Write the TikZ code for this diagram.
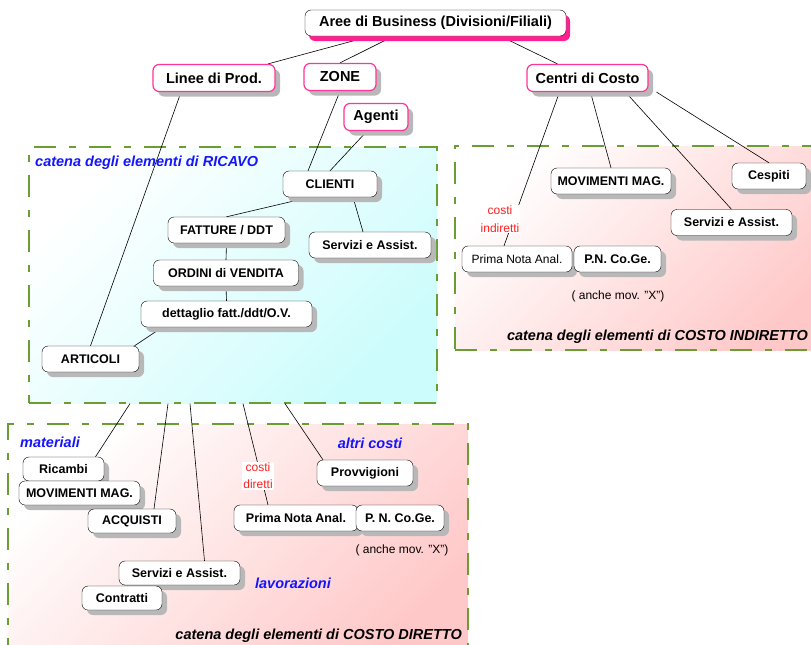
\documentclass[tikz,border=0pt]{standalone}
\usepackage{fontspec}
\setmainfont{Liberation Sans}
\usetikzlibrary{shadows}

\definecolor{rosa}{HTML}{FF3399}
\definecolor{rosaombra}{HTML}{FF2090}
\definecolor{verde}{HTML}{6A9E35}
\definecolor{blu}{HTML}{1414FF}
\definecolor{ciano}{HTML}{CCFCFC}
\definecolor{pesca}{HTML}{FFC8C8}
\definecolor{rosso}{HTML}{FF2020}

\pgfdeclarelayer{pannelli}
\pgfdeclarelayer{linee}
\pgfsetlayers{pannelli,linee,main}

\begin{document}
\begin{tikzpicture}[x=1pt, y=-1pt,
    base/.style={draw, rounded corners=6pt, fill=white, inner sep=1pt,
        minimum height=26pt, font=\fontsize{12.5}{14}\selectfont\bfseries},
    box/.style={base, drop shadow={shadow xshift=5pt, shadow yshift=-5pt,
        fill=black!28, opacity=1}},
    basso/.style={box, minimum height=24pt},
    top/.style={box, draw=rosa, line width=1.2pt, minimum height=27pt,
        font=\fontsize{14.5}{16}\selectfont\bfseries},
    radice/.style={base, minimum height=26pt,
        font=\fontsize{14.5}{16}\selectfont\bfseries,
        drop shadow={shadow xshift=4pt, shadow yshift=-5pt, fill=rosaombra, opacity=1}},
    panel/.style={draw=verde, line width=1.3pt, inner sep=0pt,
        dash pattern=on 22pt off 13pt on 7pt off 13pt},
    etichetta/.style={inner sep=0pt, font=\fontsize{14.5}{16}\selectfont\bfseries\itshape},
    nota/.style={inner sep=0pt, font=\fontsize{12}{14}\selectfont},
    rossa/.style={inner sep=1pt, fill=white, text=rosso, align=center},
    link/.style={line width=.6pt}
  ]

    \path[use as bounding box] (0,0) rectangle (811,645);

    \begin{pgfonlayer}{pannelli}
        \node[panel, top color=white, bottom color=ciano, shading angle=45,
            minimum width=408pt, minimum height=256pt] (ricavo) at (233,275) {};
        \node[panel, top color=white, bottom color=pesca, shading angle=45,
            minimum width=385pt, minimum height=204pt] (indiretto) at (647.5,248) {};
        \node[panel, top color=white, bottom color=pesca, shading angle=45,
            minimum width=460pt, minimum height=241pt] (diretto) at (238,544.5) {};
    \end{pgfonlayer}

    \node[radice, minimum width=261pt] (aree) at (435.5,23) {Aree di Business (Divisioni/Filiali)};
    \node[top, minimum width=122pt] (linee) at (214,78) {Linee di Prod.};
    \node[top, minimum width=72pt] (zone) at (340,77) {ZONE};
    \node[top, minimum width=64pt] (agenti) at (376,117) {Agenti};
    \node[top, minimum width=121pt] (centri) at (587.5,78) {Centri di Costo};

    % ricavo
    \node[etichetta, text=blu, anchor=west] (tRicavo) at (35,163) {catena degli elementi di RICAVO};
    \node[box, minimum width=94pt] (clienti) at (330,184) {CLIENTI};
    \node[box, minimum width=117pt] (fatture) at (226.5,230) {FATTURE / DDT};
    \node[box, minimum width=122pt] (servR) at (370,245) {Servizi e Assist.};
    \node[box, minimum width=145pt] (ordini) at (226,273) {ORDINI di VENDITA};
    \node[box, minimum width=171pt] (dettaglio) at (226.5,314) {dettaglio fatt./ddt/O.V.};
    \node[box, minimum width=97pt] (articoli) at (90.5,359) {ARTICOLI};

    % costo indiretto
    \node[box, minimum width=120pt] (movI) at (611,181) {MOVIMENTI MAG.};
    \node[box, minimum width=74pt] (cespiti) at (769,176) {Cespiti};
    \node[box, minimum width=121pt] (servI) at (731.5,222.5) {Servizi e Assist.};
    \node[box, minimum width=110pt, font=\fontsize{12}{14}\selectfont] (primaI) at (517,259) {Prima Nota Anal.};
    \node[box, minimum width=87pt] (pnI) at (617.5,259) {P.N. Co.Ge.};
    \node[nota] (xI) at (618,296) {( anche mov. "X")};
    \node[rossa, font=\fontsize{12}{18}\selectfont] (cInd) at (500,219) {costi\\indiretti};
    \node[etichetta, anchor=east] (tIndiretto) at (808,337) {catena degli elementi di COSTO INDIRETTO};

    % costo diretto
    \node[etichetta, text=blu, anchor=west] (tMateriali) at (20,442) {materiali};
    \node[basso, minimum width=81pt] (ricambi) at (63.5,469) {Ricambi};
    \node[basso, minimum width=121pt] (movD) at (79.5,493) {MOVIMENTI MAG.};
    \node[basso, minimum width=88pt] (acquisti) at (132,521) {ACQUISTI};
    \node[basso, minimum width=121pt] (servD) at (179.5,573) {Servizi e Assist.};
    \node[basso, minimum width=80pt] (contratti) at (122,598) {Contratti};
    \node[etichetta, text=blu] (tAltri) at (370,443) {altri costi};
    \node[box, minimum width=96pt] (provv) at (365,473) {Provvigioni};
    \node[rossa, font=\fontsize{12}{17}\selectfont] (cDir) at (258,476) {costi\\diretti};
    \node[box, minimum width=124pt] (primaD) at (296,518) {Prima Nota Anal.};
    \node[box, minimum width=88pt] (pnD) at (400,518) {P. N. Co.Ge.};
    \node[nota] (xD) at (402,550) {( anche mov. "X")};
    \node[etichetta, text=blu] (tLavorazioni) at (293,583) {lavorazioni};
    \node[etichetta, anchor=east] (tDiretto) at (462,636) {catena degli elementi di COSTO DIRETTO};

    \begin{pgfonlayer}{linee}
        \draw[link] ([xshift=-65pt]aree.south) -- ([xshift=54pt]linee.north);
        \draw[link] ([xshift=-42pt]aree.south) -- (zone.north);
        \draw[link] ([xshift=65pt]aree.south) -- ([xshift=-30pt]centri.north);

        \draw[link] ([xshift=-33pt]linee.south) -- (articoli.north);
        \draw[link] (zone.south) -- ([xshift=-22pt]clienti.north);
        \draw[link] ([xshift=-9pt]agenti.south) -- (clienti.north);
        \draw[link] ([xshift=-20pt]clienti.south) -- (fatture.north);
        \draw[link] ([xshift=23pt]clienti.south) -- ([xshift=-7pt]servR.north);
        \draw[link] (fatture.south) -- (ordini.north);
        \draw[link] (ordini.south) -- (dettaglio.north);
        \draw[link] ([xshift=-64pt]dettaglio.south) -- ([xshift=44pt]articoli.north);

        \draw[link] ([xshift=-28pt]centri.south) -- ([xshift=-13pt]primaI.north);
        \draw[link] ([xshift=3pt]centri.south) -- (movI.north);
        \draw[link] ([xshift=38pt]centri.south) -- (servI.north);
        \draw[link] ([xshift=69pt]centri.south) -- (cespiti.north);

        \draw[link] ([xshift=-103pt]ricavo.south) -- ([xshift=32pt]ricambi.north);
        \draw[link] ([xshift=-65pt]ricavo.south) -- ([xshift=22pt]acquisti.north);
        \draw[link] ([xshift=-43pt]ricavo.south) -- ([xshift=25pt]servD.north);
        \draw[link] ([xshift=10pt]ricavo.south) -- ([xshift=-28pt]primaD.north);
        \draw[link] ([xshift=52pt]ricavo.south) -- ([xshift=-42pt]provv.north);
    \end{pgfonlayer}

\end{tikzpicture}
\end{document}
